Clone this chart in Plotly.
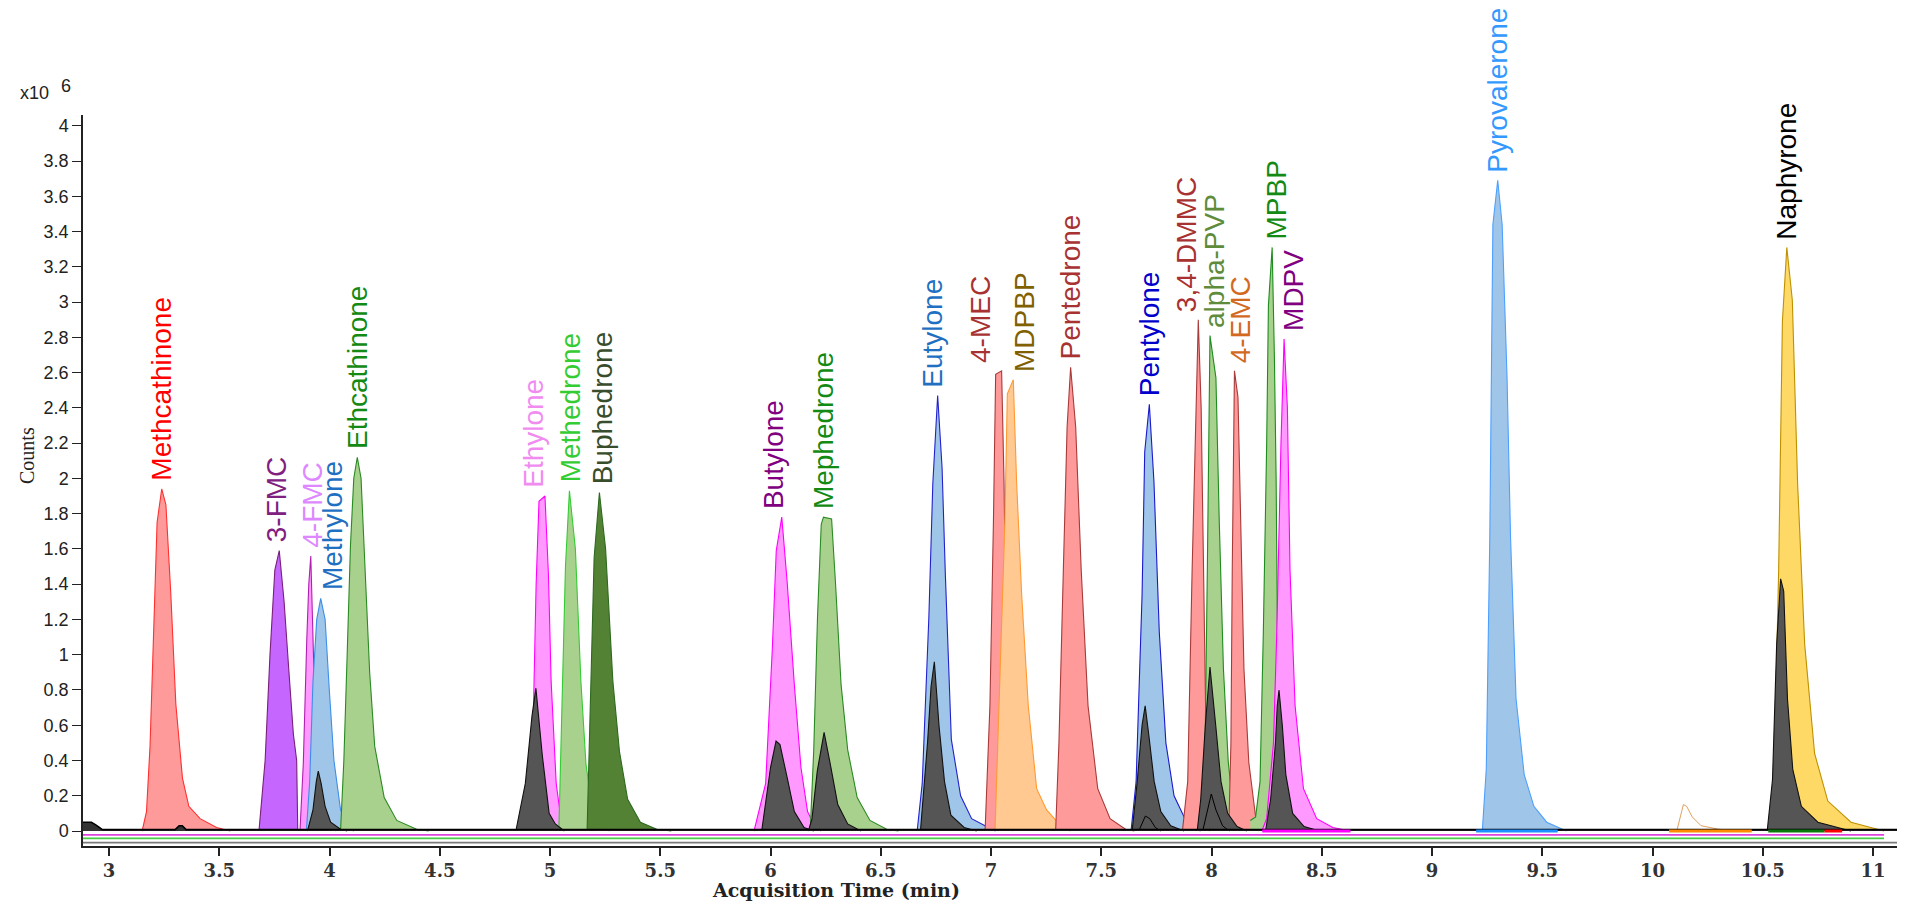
import plotly.graph_objects as go

# ---------------- data: time (min) and counts (x10^6) ----------------
methcathinone_t = [3.150, 3.170, 3.186, 3.200, 3.218, 3.239, 3.258, 3.280, 3.303, 3.333, 3.362, 3.413, 3.488, 3.550]
methcathinone_y = [0, 0.11, 0.48, 1.10, 1.75, 1.94, 1.85, 1.35, 0.72, 0.30, 0.14, 0.07, 0.02, 0]

fmc3_t = [3.680, 3.708, 3.730, 3.752, 3.772, 3.794, 3.815, 3.836, 3.851, 3.856]
fmc3_y = [0, 0.40, 1.00, 1.48, 1.59, 1.30, 0.92, 0.55, 0.40, 0]

fmc4_t = [3.866, 3.881, 3.897, 3.906, 3.915, 3.924, 3.934, 3.957, 3.987, 4.030]
fmc4_y = [0, 0.38, 1.09, 1.40, 1.56, 1.09, 0.68, 0.28, 0.07, 0]

methylone_t = [3.895, 3.910, 3.925, 3.942, 3.960, 3.980, 3.998, 4.020, 4.050, 4.093, 4.110]
methylone_y = [0, 0.28, 0.85, 1.20, 1.32, 1.20, 0.82, 0.40, 0.12, 0.01, 0]

ethcathinone_t = [4.050, 4.065, 4.080, 4.095, 4.110, 4.126, 4.143, 4.162, 4.182, 4.205, 4.248, 4.305, 4.395, 4.450]
ethcathinone_y = [0, 0.40, 1.00, 1.62, 2.00, 2.12, 2.00, 1.50, 0.90, 0.48, 0.19, 0.06, 0.01, 0]

ethylone_t = [4.895, 4.920, 4.937, 4.950, 4.977, 4.993, 5.005, 5.028, 5.045, 5.083, 5.180, 5.200]
ethylone_y = [0, 0.40, 1.40, 1.87, 1.90, 1.45, 0.85, 0.27, 0.11, 0.05, 0.04, 0]

methedrone_t = [5.040, 5.055, 5.070, 5.088, 5.115, 5.140, 5.163, 5.192, 5.228, 5.270]
methedrone_y = [0, 0.70, 1.50, 1.93, 1.60, 0.85, 0.38, 0.12, 0.04, 0]

buphedrone_t = [5.168, 5.183, 5.200, 5.224, 5.252, 5.285, 5.315, 5.352, 5.410, 5.484, 5.550]
buphedrone_y = [0, 0.75, 1.55, 1.92, 1.60, 0.85, 0.45, 0.18, 0.05, 0.01, 0]

butylone_t = [5.925, 5.978, 6.008, 6.026, 6.051, 6.075, 6.108, 6.138, 6.168, 6.196, 6.230]
butylone_y = [0, 0.27, 1.03, 1.59, 1.78, 1.42, 0.83, 0.36, 0.11, 0.04, 0]

mephedrone_t = [6.180, 6.196, 6.213, 6.230, 6.240, 6.277, 6.295, 6.320, 6.350, 6.393, 6.451, 6.527, 6.580]
mephedrone_y = [0, 0.46, 1.21, 1.74, 1.78, 1.77, 1.40, 0.83, 0.46, 0.19, 0.06, 0.01, 0]

eutylone_t = [6.665, 6.688, 6.718, 6.736, 6.758, 6.778, 6.793, 6.820, 6.862, 6.912, 6.988, 7.020]
eutylone_y = [0, 0.27, 1.21, 1.97, 2.47, 2.06, 1.45, 0.52, 0.20, 0.07, 0.02, 0]

mec4_t = [6.973, 6.995, 7.011, 7.021, 7.048, 7.059, 7.068, 7.071, 7.086, 7.100]
mec4_y = [0, 0.71, 1.76, 2.59, 2.61, 1.98, 1.13, 0.28, 0.02, 0]

mdpbp_t = [7.018, 7.041, 7.063, 7.074, 7.101, 7.116, 7.139, 7.169, 7.207, 7.252, 7.313, 7.360]
mdpbp_y = [0, 0.92, 1.76, 2.48, 2.56, 1.98, 1.34, 0.71, 0.24, 0.12, 0.035, 0]

pentedrone_t = [7.293, 7.308, 7.328, 7.345, 7.361, 7.384, 7.409, 7.440, 7.484, 7.540, 7.610, 7.650]
pentedrone_y = [0, 0.50, 1.48, 2.29, 2.63, 2.29, 1.48, 0.71, 0.24, 0.07, 0.01, 0]

pentylone_t = [7.635, 7.658, 7.685, 7.697, 7.718, 7.739, 7.763, 7.793, 7.830, 7.887, 7.950]
pentylone_y = [0, 0.28, 1.34, 2.15, 2.42, 1.98, 1.13, 0.50, 0.20, 0.05, 0]

dmmc_t = [7.868, 7.892, 7.912, 7.928, 7.940, 7.953, 7.965, 7.973, 7.980, 7.992]
dmmc_y = [0, 0.28, 1.48, 2.40, 2.90, 2.40, 1.48, 0.71, 0.07, 0]

apvp_t = [7.955, 7.971, 7.981, 7.993, 8.020, 8.035, 8.054, 8.076, 8.099, 8.122, 8.175, 8.176]
apvp_y = [0, 0.50, 1.48, 2.81, 2.57, 1.76, 0.92, 0.39, 0.12, 0.08, 0.06, 0]

emc4_t = [8.078, 8.088, 8.094, 8.104, 8.120, 8.132, 8.147, 8.169, 8.190, 8.205, 8.215]
emc4_y = [0, 0.50, 1.48, 2.61, 2.46, 1.76, 0.92, 0.39, 0.18, 0.03, 0]

mpbp_t = [8.176, 8.200, 8.220, 8.235, 8.250, 8.258, 8.275, 8.285, 8.293, 8.298, 8.303, 8.315, 8.335, 8.360]
mpbp_y = [0.06, 0.08, 0.28, 1.13, 2.19, 2.98, 3.31, 2.70, 2.00, 1.13, 0.50, 0.20, 0.06, 0]

mdpv_t = [8.228, 8.250, 8.281, 8.296, 8.315, 8.329, 8.344, 8.356, 8.379, 8.417, 8.477, 8.550, 8.630]
mdpv_y = [0, 0.07, 0.50, 1.13, 2.20, 2.79, 2.40, 1.48, 0.71, 0.24, 0.07, 0.02, 0]

pyrovalerone_t = [9.228, 9.246, 9.262, 9.276, 9.298, 9.318, 9.340, 9.356, 9.381, 9.418, 9.462, 9.520, 9.610]
pyrovalerone_y = [0, 0.35, 1.67, 3.44, 3.69, 3.44, 2.58, 1.67, 0.75, 0.32, 0.14, 0.05, 0]

naphyrone_t = [10.528, 10.551, 10.572, 10.589, 10.609, 10.634, 10.658, 10.690, 10.735, 10.795, 10.900, 11.050]
naphyrone_y = [0, 0.29, 1.48, 2.89, 3.31, 3.01, 1.97, 1.06, 0.44, 0.17, 0.05, 0]

# qualifier / second-channel (dark) traces
methylone_blk_t = [3.900, 3.925, 3.940, 3.949, 3.962, 3.980, 4.005, 4.050, 4.080]
methylone_blk_y = [0, 0.12, 0.28, 0.34, 0.27, 0.14, 0.05, 0.01, 0]

ethylone_blk_t = [4.845, 4.888, 4.918, 4.936, 4.965, 4.996, 5.024, 5.065]
ethylone_blk_y = [0, 0.27, 0.65, 0.81, 0.43, 0.10, 0.04, 0]

butylone_blk_t = [5.960, 6.000, 6.025, 6.043, 6.076, 6.108, 6.152, 6.196]
butylone_blk_y = [0, 0.36, 0.51, 0.49, 0.30, 0.11, 0.02, 0]

mephedrone_blk_t = [6.172, 6.188, 6.212, 6.243, 6.274, 6.305, 6.350, 6.410]
mephedrone_blk_y = [0, 0.07, 0.34, 0.56, 0.36, 0.15, 0.04, 0]

eutylone_blk_t = [6.680, 6.712, 6.728, 6.743, 6.764, 6.789, 6.818, 6.878, 6.935]
eutylone_blk_y = [0, 0.50, 0.82, 0.96, 0.60, 0.28, 0.09, 0.02, 0]

pentylone_blk_t = [7.640, 7.663, 7.685, 7.699, 7.716, 7.740, 7.770, 7.815, 7.875]
pentylone_blk_y = [0, 0.28, 0.60, 0.71, 0.54, 0.28, 0.11, 0.03, 0]

apvp_blk_t = [7.935, 7.951, 7.972, 7.993, 8.019, 8.043, 8.073, 8.116, 8.160]
apvp_blk_y = [0, 0.18, 0.60, 0.93, 0.60, 0.28, 0.10, 0.025, 0]

mdpv_blk_t = [8.245, 8.268, 8.290, 8.298, 8.306, 8.321, 8.337, 8.368, 8.420, 8.490]
mdpv_blk_y = [0, 0.18, 0.50, 0.71, 0.80, 0.60, 0.32, 0.10, 0.025, 0]

naphyrone_blk_t = [10.520, 10.544, 10.563, 10.581, 10.595, 10.612, 10.636, 10.675, 10.750, 10.900]
naphyrone_blk_y = [0, 0.29, 1.06, 1.43, 1.36, 0.75, 0.35, 0.14, 0.05, 0]

# small unfilled traces
pentylone_minor_t = [7.670, 7.690, 7.700, 7.720, 7.745, 7.770]
pentylone_minor_y = [0, 0.06, 0.085, 0.07, 0.02, 0]
apvp_minor_t = [7.960, 7.980, 7.999, 8.020, 8.050, 8.080]
apvp_minor_y = [0, 0.10, 0.21, 0.12, 0.03, 0]
minor_1015_t = [10.110, 10.140, 10.155, 10.180, 10.220, 10.300, 10.400]
minor_1015_y = [0, 0.15, 0.14, 0.08, 0.03, 0.01, 0]

# baseline (dark) with small bumps
baseline_t = [2.882, 2.905, 2.920, 2.940, 2.955, 2.970, 3.300, 3.318, 3.332, 3.350, 11.145]
baseline_y = [0.05, 0.05, 0.05, 0.035, 0.02, 0.008, 0.008, 0.03, 0.03, 0.008, 0.008]

# integration-baseline segments
seg_start = [8.230, 9.200, 10.075, 10.525, 10.780]
seg_end = [8.630, 9.570, 10.450, 10.780, 10.860]

compounds = ["Methcathinone", "3-FMC", "4-FMC", "Methylone", "Ethcathinone", "Ethylone", "Methedrone",
             "Buphedrone", "Butylone", "Mephedrone", "Eutylone", "4-MEC", "MDPBP", "Pentedrone",
             "Pentylone", "3,4-DMMC", "alpha-PVP", "4-EMC", "MPBP", "MDPV", "Pyrovalerone", "Naphyrone"]
peak_t = [methcathinone_t, fmc3_t, fmc4_t, methylone_t, ethcathinone_t, ethylone_t, methedrone_t,
          buphedrone_t, butylone_t, mephedrone_t, eutylone_t, mec4_t, mdpbp_t, pentedrone_t,
          pentylone_t, dmmc_t, apvp_t, emc4_t, mpbp_t, mdpv_t, pyrovalerone_t, naphyrone_t]
peak_y = [methcathinone_y, fmc3_y, fmc4_y, methylone_y, ethcathinone_y, ethylone_y, methedrone_y,
          buphedrone_y, butylone_y, mephedrone_y, eutylone_y, mec4_y, mdpbp_y, pentedrone_y,
          pentylone_y, dmmc_y, apvp_y, emc4_y, mpbp_y, mdpv_y, pyrovalerone_y, naphyrone_y]
dark_t = [methylone_blk_t, ethylone_blk_t, butylone_blk_t, mephedrone_blk_t, eutylone_blk_t,
          pentylone_blk_t, apvp_blk_t, mdpv_blk_t, naphyrone_blk_t]
dark_y = [methylone_blk_y, ethylone_blk_y, butylone_blk_y, mephedrone_blk_y, eutylone_blk_y,
          pentylone_blk_y, apvp_blk_y, mdpv_blk_y, naphyrone_blk_y]

# ---------------- styles ----------------
SALMON, PINK, BLUE, GREEN = "#ff9a9a", "#ff99ff", "#9fc5e8", "#a9d18e"
styles = {
    "Methcathinone": dict(fill=SALMON, line="#ff3030", label="#ff0000", dx=0.0),
    "3-FMC": dict(fill="#c566ff", line="#7a1f7a", label="#80207f", dx=-0.012),
    "4-FMC": dict(fill=PINK, line="#b020b0", label="#dd88ff", dx=0.009),
    "Methylone": dict(fill=BLUE, line="#3d8fe6", label="#1f6fc2", dx=0.057),
    "Ethcathinone": dict(fill=GREEN, line="#2a8a22", label="#138a13", dx=0.0),
    "Ethylone": dict(fill=PINK, line="#ff00ff", label="#f08cf0", dx=-0.053),
    "Methedrone": dict(fill=GREEN, line="#33cc33", label="#33cc33", dx=0.003),
    "Buphedrone": dict(fill="#548235", line="#2d6a1f", label="#384d2c", dx=0.018),
    "Butylone": dict(fill=PINK, line="#ff00ff", label="#800080", dx=-0.038),
    "Mephedrone": dict(fill=GREEN, line="#2a8a22", label="#138a13", dx=0.0),
    "Eutylone": dict(fill=BLUE, line="#2222cc", label="#1f6fc2", dx=-0.027),
    "4-MEC": dict(fill=SALMON, line="#a83a3a", label="#a83232", dx=-0.095),
    "MDPBP": dict(fill="#ffc991", line="#ff9933", label="#806000", dx=0.05),
    "Pentedrone": dict(fill=SALMON, line="#a83a3a", label="#a83232", dx=0.0),
    "Pentylone": dict(fill=BLUE, line="#1a1acc", label="#0000cc", dx=0.0),
    "3,4-DMMC": dict(fill=SALMON, line="#a83a3a", label="#a83232", dx=-0.056),
    "alpha-PVP": dict(fill=GREEN, line="#1e8c1e", label="#5e8c3a", dx=0.02),
    "4-EMC": dict(fill=SALMON, line="#a83a3a", label="#d2691e", dx=0.025),
    "MPBP": dict(fill=GREEN, line="#1e8c1e", label="#138a13", dx=0.02),
    "MDPV": dict(fill=PINK, line="#ff00ff", label="#800080", dx=0.042),
    "Pyrovalerone": dict(fill=BLUE, line="#4da0ff", label="#3399ff", dx=0.0),
    "Naphyrone": dict(fill="#ffd966", line="#bf9000", label="#000000", dx=0.0),
}
seg_colors = ["#ff00ff", "#1e90ff", "#ff8c00", "#0a7a0a", "#ff0000"]

X_RANGE = [2.882, 11.145]
Y_RANGE = [-0.085, 4.061]

fig = go.Figure()

# colored chromatogram baselines beneath zero
for yv, col, x1 in [(-0.022, "#dd44dd", 11.05), (-0.042, "#44cc44", 11.05), (-0.066, "#7a7a7a", X_RANGE[1])]:
    fig.add_trace(go.Scatter(x=[X_RANGE[0], x1], y=[yv, yv], mode="lines",
                             line=dict(color=col, width=1.6), hoverinfo="skip"))

# compound peaks
for name, t, y in zip(compounds, peak_t, peak_y):
    s = styles[name]
    fig.add_trace(go.Scatter(x=t, y=y, mode="lines", fill="tozeroy", fillcolor=s["fill"],
                             line=dict(color=s["line"], width=1.1), hoverinfo="skip"))

# dark qualifier peaks on top
for t, y in zip(dark_t, dark_y):
    fig.add_trace(go.Scatter(x=t, y=y, mode="lines", fill="tozeroy", fillcolor="#555555",
                             line=dict(color="#111111", width=1.1), hoverinfo="skip"))

for t, y in [(pentylone_minor_t, pentylone_minor_y), (apvp_minor_t, apvp_minor_y)]:
    fig.add_trace(go.Scatter(x=t, y=y, mode="lines", line=dict(color="#000000", width=1),
                             hoverinfo="skip"))
fig.add_trace(go.Scatter(x=minor_1015_t, y=minor_1015_y, mode="lines",
                         line=dict(color="#e0a060", width=1), hoverinfo="skip"))

# dark baseline
fig.add_trace(go.Scatter(x=baseline_t, y=baseline_y, mode="lines", fill="tozeroy",
                         fillcolor="#333333", line=dict(color="#000000", width=1.6), hoverinfo="skip"))
for a, b, c in zip(seg_start, seg_end, seg_colors):
    fig.add_trace(go.Scatter(x=[a, b], y=[0.0, 0.0], mode="lines", line=dict(color=c, width=3),
                             hoverinfo="skip"))

# peak labels (anchored just above each apex)
annotations = []
for name, t, y in zip(compounds, peak_t, peak_y):
    s = styles[name]
    k = max(range(len(y)), key=lambda i: y[i])
    annotations.append(dict(x=t[k] + s["dx"], y=y[k], xref="x", yref="y", text=name, showarrow=False,
                            textangle=-90, xanchor="center", yanchor="bottom", yshift=6,
                            font=dict(family="Liberation Sans, Arial, sans-serif", size=28, color=s["label"])))

# page has an 8px body margin: figure origin sits at page (8, 8)
OFF = 8
PAGE_L, PAGE_T, PW, PH = 83, 115, 1822, 731
def px(xp):
    return (xp - PAGE_L) / PW
def py(yp):
    return (PAGE_T + PH - yp) / PH

annotations += [
    dict(x=px(34), y=py(93), xref="paper", yref="paper", text="x10", showarrow=False,
         xanchor="center", yanchor="middle",
         font=dict(family="Liberation Sans, Arial", size=18, color="#222")),
    dict(x=px(66), y=py(86), xref="paper", yref="paper", text="6", showarrow=False,
         xanchor="center", yanchor="middle",
         font=dict(family="Liberation Sans, Arial", size=18, color="#222")),
    dict(x=px(27), y=py(456), xref="paper", yref="paper", text="Counts", showarrow=False, textangle=-90,
         xanchor="center", yanchor="middle",
         font=dict(family="Liberation Serif, Times New Roman, serif", size=20, color="#222")),
    dict(x=px(836), y=py(890), xref="paper", yref="paper", text="Acquisition Time (min)", showarrow=False,
         xanchor="center", yanchor="middle",
         font=dict(family="DejaVu Serif, serif", size=19, color="#222", weight="bold")),
]

W, H = 1905 - OFF, 905 - OFF
fig.update_layout(
    width=W, height=H,
    margin=dict(l=PAGE_L - OFF, r=W - (PAGE_L - OFF) - PW, t=PAGE_T - OFF, b=H - (PAGE_T - OFF) - PH, pad=0,
                autoexpand=False),
    paper_bgcolor="white", plot_bgcolor="white",
    showlegend=False,
    annotations=annotations,
    xaxis=dict(range=X_RANGE, tick0=3, dtick=0.5, ticks="outside", ticklen=8, tickwidth=1.5,
               tickcolor="#222", showline=True, linecolor="#222", linewidth=1.5, mirror=False,
               showgrid=False, zeroline=False, automargin=False,
               tickfont=dict(family="DejaVu Serif, serif", size=18, color="#333", weight="bold")),
    yaxis=dict(range=Y_RANGE, tick0=0, dtick=0.2, ticks="outside", ticklen=9, tickwidth=1.2,
               tickcolor="#222", showline=True, linecolor="#222", linewidth=1.5,
               showgrid=False, zeroline=False, automargin=False,
               tickfont=dict(family="Liberation Sans, Arial", size=18, color="#222")),
)

fig.write_html("out.html")
